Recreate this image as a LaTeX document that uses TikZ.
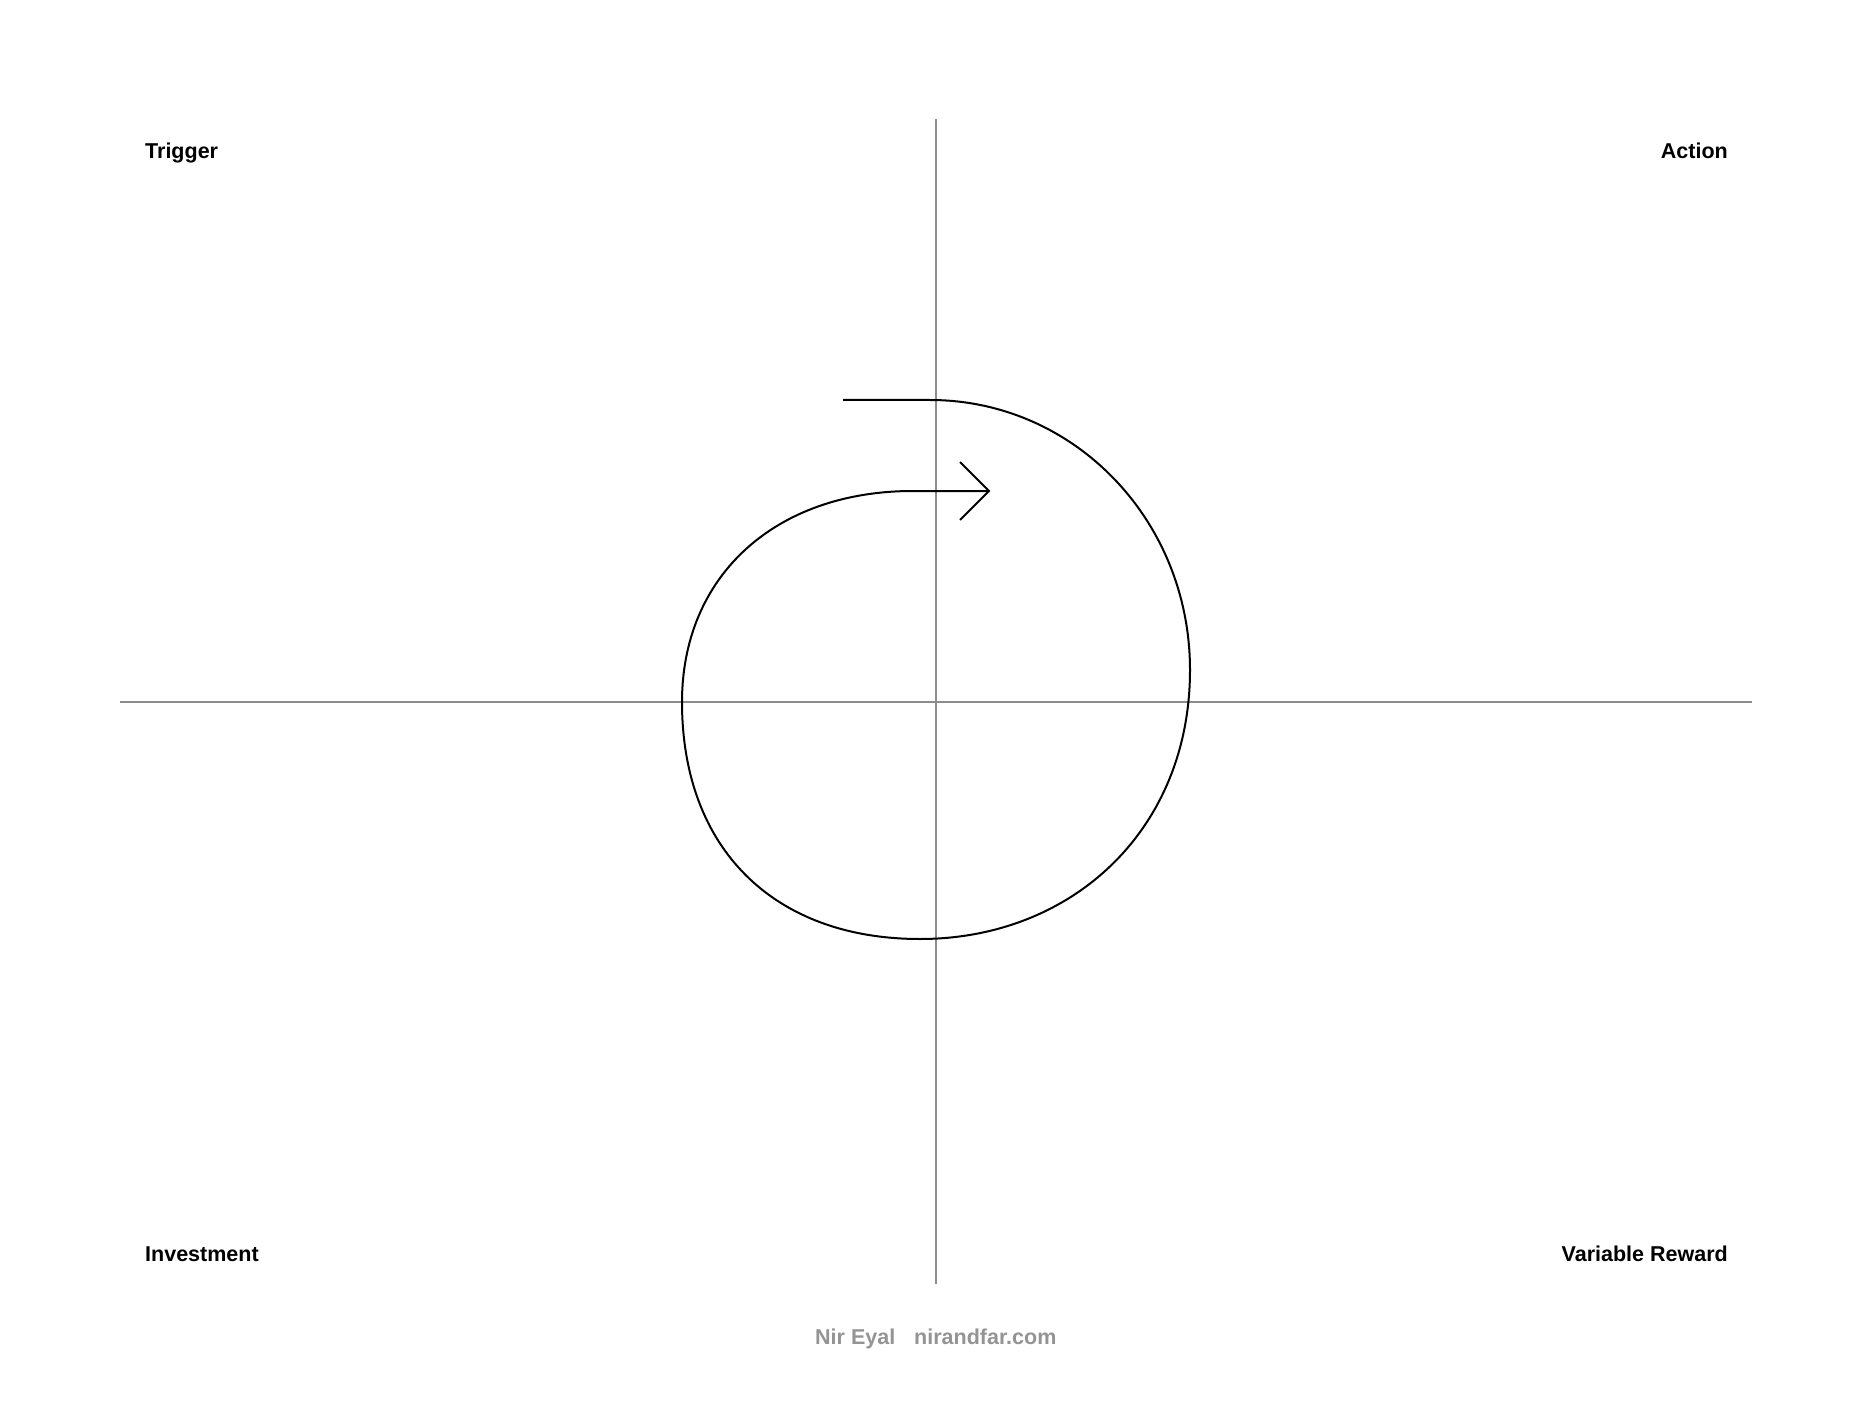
\documentclass[tikz,border=0pt]{standalone}
\usepackage{fontspec}
\setmainfont{Liberation Sans}
\begin{document}
\begin{tikzpicture}[x=1pt,y=-1pt,
  axis/.style={draw=black!45,line width=1.1pt},
  loopline/.style={draw=black,line width=2pt},
  label/.style={inner sep=0pt,font=\fontsize{21.5}{26}\selectfont\bfseries,text=black},
  credit/.style={inner sep=0pt,font=\fontsize{21.5}{25}\selectfont\bfseries,text=black!42}]
\useasboundingbox[fill=white] (0,0) rectangle (1872,1404);
% axes
\coordinate (hl) at (120,702);
\coordinate (hr) at (1752,702);
\coordinate (vt) at (936,119);
\coordinate (vb) at (936,1284);
\draw[axis] (hl) -- (hr);
\draw[axis] (vt) -- (vb);
% spiral
\coordinate (s0) at (843,400);
\coordinate (s1) at (930,400);
\coordinate (s2) at (1190,670);
\coordinate (s3) at (920,939);
\coordinate (s4) at (682,702);
\coordinate (s5) at (913,491);
\coordinate (tip) at (989,491);
\coordinate (armA) at (960,462);
\coordinate (armB) at (960,520);
\draw[loopline] (s0) -- (s1)
  .. controls (1074,400) and (1190,520) .. (s2)
  .. controls (1190,830) and (1072,939) .. (s3)
  .. controls (774,939) and (682,849) .. (s4)
  .. controls (682,576) and (775,491) .. (s5)
  -- (tip);
\draw[loopline,line join=miter] (armA) -- (tip) -- (armB);
% labels
\node[label,anchor=base west] (trigger) at (145,159) {Trigger};
\node[label,anchor=base east] (action) at (1728,159) {Action};
\node[label,anchor=base west] (investment) at (145,1261) {Investment};
\node[label,anchor=base east] (reward) at (1728,1261) {Variable Reward};
\node[credit,anchor=base west] (author) at (815,1344) {Nir Eyal};
\node[credit,anchor=base west] (site) at (914,1344) {nirandfar.com};
\end{tikzpicture}
\end{document}
